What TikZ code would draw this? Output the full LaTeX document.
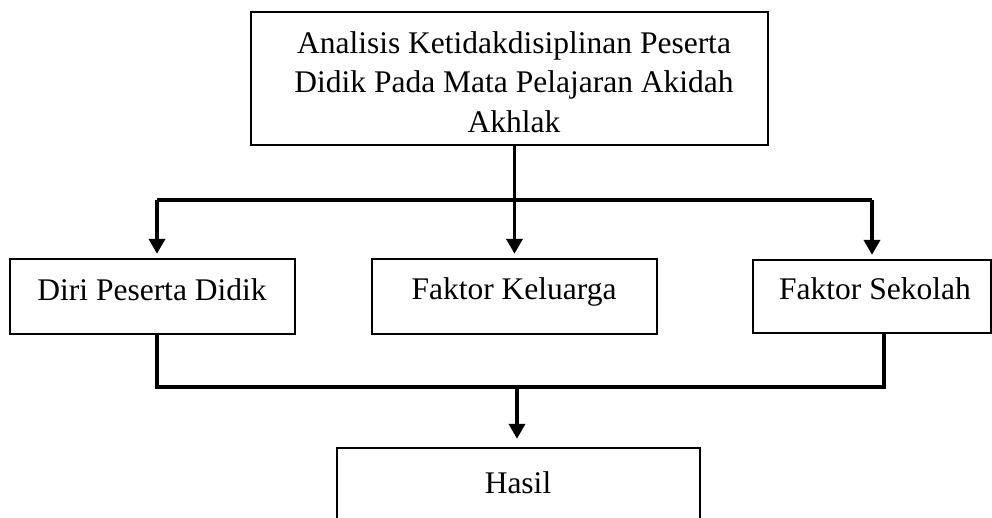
\documentclass[tikz,border=0pt]{standalone}
\usepackage{fontspec}
\setmainfont{Liberation Serif}
\usetikzlibrary{arrows.meta}
\begin{document}
\begin{tikzpicture}[x=1pt,y=-1pt,
  boxstyle/.style={draw,line width=2.4pt,rectangle,inner sep=0pt},
  txt/.style={font=\fontsize{31.5}{39.5}\selectfont,inner sep=0pt,align=center},
  conn/.style={line width=3.7pt},
  arr/.style={conn,-{Triangle[width=16pt,length=15pt]}}]
\path[use as bounding box] (0,0) rectangle (992,517);
\clip (0,0) rectangle (992,517);
% boxes
\node[boxstyle,minimum width=517pt,minimum height=133pt] (top) at (509.5,78.5) {};
\node[boxstyle,minimum width=285pt,minimum height=75pt] (diri) at (152.5,296.5) {};
\node[boxstyle,minimum width=285pt,minimum height=75pt] (kel) at (514.5,296.5) {};
\node[boxstyle,minimum width=238pt,minimum height=73pt] (sek) at (872,296.5) {};
\node[boxstyle,minimum width=363pt,minimum height=90pt] (hasil) at (518.5,493) {};
% texts
\node[txt,anchor=base] (ttop) at (514,132) {Analisis Ketidakdisiplinan Peserta\\Didik Pada Mata Pelajaran Akidah\\Akhlak};
\node[txt,anchor=base] (tdiri) at (152,300) {Diri Peserta Didik};
\node[txt,anchor=base] (tkel) at (514,299) {Faktor Keluarga};
\node[txt,anchor=base] (tsek) at (875,299) {Faktor Sekolah};
\node[txt,anchor=base] (thasil) at (518,493) {Hasil};
% junctions
\coordinate (jl) at (157,200);
\coordinate (jr) at (872,200);
\coordinate (bl) at (157,387);
\coordinate (br) at (884,387);
\coordinate (bm) at (517,387);
% connectors
\draw[arr,shorten >=4pt] (top.south -| kel.north) -- (kel.north);
\draw[conn] (jl) -- (jr);
\draw[arr,shorten >=4pt] (jl) -- (jl |- diri.north);
\draw[arr,shorten >=4pt] (jr) -- (jr |- sek.north);
\draw[conn] (bl |- diri.south) -- (bl) -- (br) -- (br |- sek.south);
\draw[arr,shorten >=8pt] (bm) -- (bm |- hasil.north);
\end{tikzpicture}
\end{document}
